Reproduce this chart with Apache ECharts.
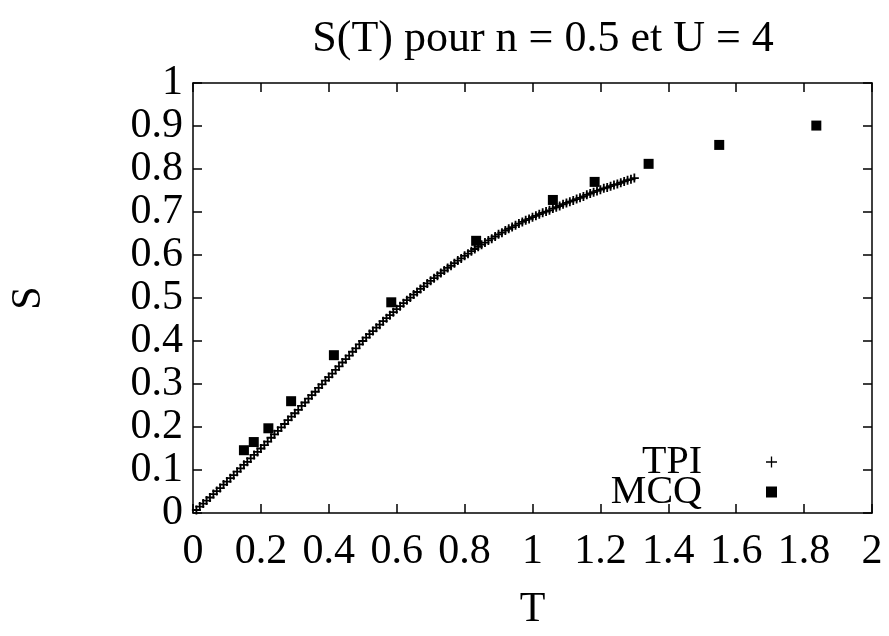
<!DOCTYPE html>
<html>
<head>
<meta charset="utf-8">
<script src="https://cdn.jsdelivr.net/npm/echarts@6/dist/echarts.min.js"></script>
<style>html,body{margin:0;padding:0;background:#fff}#c{width:889px;height:636px}</style>
</head>
<body>
<div id="c"></div>
<script>
var titleText = 'S(T) pour n = 0.5 et U = 4';
var xName = 'T';
var yName = 'S';
var tpiT = [0.01,0.02,0.03,0.04,0.05,0.06,0.07,0.08,0.09,0.10,
  0.11,0.12,0.13,0.14,0.15,0.16,0.17,0.18,0.19,0.20,
  0.21,0.22,0.23,0.24,0.25,0.26,0.27,0.28,0.29,0.30,
  0.31,0.32,0.33,0.34,0.35,0.36,0.37,0.38,0.39,0.40,
  0.41,0.42,0.43,0.44,0.45,0.46,0.47,0.48,0.49,0.50,
  0.51,0.52,0.53,0.54,0.55,0.56,0.57,0.58,0.59,0.60,
  0.61,0.62,0.63,0.64,0.65,0.66,0.67,0.68,0.69,0.70,
  0.71,0.72,0.73,0.74,0.75,0.76,0.77,0.78,0.79,0.80,
  0.81,0.82,0.83,0.84,0.85,0.86,0.87,0.88,0.89,0.90,
  0.91,0.92,0.93,0.94,0.95,0.96,0.97,0.98,0.99,1.00,
  1.01,1.02,1.03,1.04,1.05,1.06,1.07,1.08,1.09,1.10,
  1.11,1.12,1.13,1.14,1.15,1.16,1.17,1.18,1.19,1.20,
  1.21,1.22,1.23,1.24,1.25,1.26,1.27,1.28,1.29,1.30];
var tpiS = [0.007,0.015,0.022,0.029,0.036,0.044,0.051,0.058,0.066,0.073,
  0.081,0.088,0.096,0.104,0.112,0.119,0.127,0.135,0.142,0.150,
  0.158,0.166,0.175,0.183,0.191,0.199,0.207,0.216,0.224,0.232,
  0.240,0.249,0.257,0.266,0.274,0.282,0.291,0.299,0.308,0.316,
  0.324,0.333,0.341,0.350,0.358,0.366,0.375,0.383,0.392,0.400,
  0.408,0.416,0.423,0.431,0.438,0.446,0.453,0.460,0.467,0.474,
  0.481,0.488,0.495,0.501,0.508,0.514,0.521,0.527,0.534,0.540,
  0.546,0.552,0.558,0.564,0.570,0.575,0.581,0.587,0.592,0.598,
  0.603,0.609,0.614,0.619,0.624,0.629,0.634,0.638,0.643,0.648,
  0.652,0.657,0.661,0.665,0.669,0.673,0.677,0.681,0.684,0.688,
  0.691,0.695,0.698,0.701,0.704,0.708,0.711,0.714,0.718,0.721,
  0.724,0.727,0.730,0.733,0.736,0.740,0.743,0.746,0.749,0.752,
  0.755,0.757,0.760,0.763,0.765,0.768,0.771,0.774,0.776,0.779];
var mcqT = [0.150,0.179,0.222,0.289,0.415,0.584,0.834,1.060,1.183,1.342,1.550,1.836];
var mcqS = [0.146,0.165,0.197,0.260,0.367,0.490,0.633,0.728,0.770,0.812,0.856,0.901];

var font = "'Liberation Serif', 'Times New Roman', serif";
function pairs(a, b) { return a.map(function (v, i) { return [v, b[i]]; }); }
var plusPath = 'path://M4,0H6V4H10V6H6V10H4V6H0V4H4Z';
var plusThin = 'path://M4.4,0H5.6V4.4H10V5.6H5.6V10H4.4V5.6H0V4.4H4.4Z';

var chart = echarts.init(document.getElementById('c'), null, {renderer: 'canvas'});
var axisCommon = {
  min: 0,
  axisLine: {show: true, onZero: false, lineStyle: {color: '#000', width: 1.5}},
  axisTick: {show: true, inside: true, length: 9, lineStyle: {color: '#000', width: 1.5}},
  splitLine: {show: false}
};
chart.setOption({
  animation: false,
  backgroundColor: '#fff',
  title: {
    text: titleText, left: 538, top: 12, textAlign: 'center',
    textStyle: {fontFamily: font, fontSize: 44, fontWeight: 'normal', color: '#000'}
  },
  grid: {left: 190, right: 17, top: 83, bottom: 121, show: false},
  legend: {
    orient: 'vertical', right: 107, top: 437, align: 'right',
    itemWidth: 11, itemHeight: 11, itemGap: -10,
    textStyle: {fontFamily: font, fontSize: 40, color: '#000', padding: [0, 59, 0, 0]},
    data: [{name: 'TPI', icon: plusThin}, {name: 'MCQ', icon: 'rect'}]
  },
  xAxis: [
    Object.assign({}, axisCommon, {
      type: 'value', max: 2, interval: 0.2, position: 'bottom',
      name: xName, nameLocation: 'middle', nameGap: 76,
      nameTextStyle: {fontFamily: font, fontSize: 42, color: '#000'},
      axisLabel: {fontFamily: font, fontSize: 42, color: '#000', margin: 18}
    }),
    Object.assign({}, axisCommon, {
      type: 'value', max: 2, interval: 0.2, position: 'top',
      axisLabel: {show: false}
    })
  ],
  yAxis: [
    Object.assign({}, axisCommon, {
      type: 'value', max: 1, interval: 0.1, position: 'left',
      name: yName, nameLocation: 'middle', nameGap: 143, nameRotate: 90,
      nameTextStyle: {fontFamily: font, fontSize: 42, color: '#000'},
      axisLabel: {fontFamily: font, fontSize: 42, color: '#000', margin: 10}
    }),
    Object.assign({}, axisCommon, {
      type: 'value', max: 1, interval: 0.1, position: 'right',
      axisLabel: {show: false}
    })
  ],
  series: [
    {
      name: 'TPI', type: 'scatter', data: pairs(tpiT, tpiS),
      symbol: plusPath, symbolSize: 9,
      itemStyle: {color: '#000', opacity: 1}
    },
    {
      name: 'MCQ', type: 'scatter', data: pairs(mcqT, mcqS),
      symbol: 'rect', symbolSize: 10,
      itemStyle: {color: '#000', opacity: 1}
    }
  ]
});
</script>
</body>
</html>
